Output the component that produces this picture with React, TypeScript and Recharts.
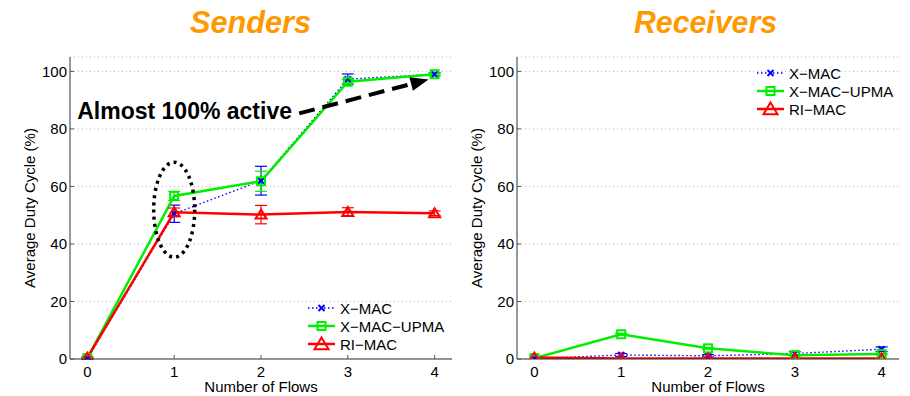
import React from 'react';
import {
  LineChart,
  Line,
  XAxis,
  YAxis,
  CartesianGrid,
  ErrorBar,
  Legend,
  ReferenceLine,
  ReferenceDot,
} from 'recharts';

const FONT = '"Liberation Sans", Arial, Helvetica, sans-serif';

// ---- categories / ticks ----
const flows = [0, 1, 2, 3, 4];
const xTicks = [0, 1, 2, 3, 4];
const yTicks = [0, 20, 40, 60, 80, 100];

// ---- Senders ----
const sendXmac = [0.1, 50.5, 62, 97.3, 99];
const sendXmacErr = [0.2, 3, 5, 1.8, 0.5];
const sendUpma = [0.3, 56.7, 61.8, 96.4, 99];
const sendUpmaErr = [0.2, 1.6, 3.5, 0.8, 0.4];
const sendRimac = [0.5, 51, 50.2, 51.1, 50.7];
const sendRimacErr = [0.3, 1.5, 3.2, 1.5, 0.8];

// ---- Receivers ----
const recvXmac = [0.1, 1.4, 1.1, 1.9, 3.4];
const recvXmacErr = [0, 0.5, 0.4, 0.6, 0.8];
const recvUpma = [0.3, 8.6, 3.7, 1.3, 1.7];
const recvUpmaErr = [0, 0.3, 0.3, 0.2, 0.2];
const recvRimac = [0.5, 0.2, 0.2, 0.2, 0.2];
const recvRimacErr = [0, 0, 0, 0, 0];

const seriesNames = ['X−MAC', 'X−MAC−UPMA', 'RI−MAC'];
const titles = ['Senders', 'Receivers'];

const senders = flows.map((x, i) => ({
  x,
  xmac: sendXmac[i],
  xmacErr: sendXmacErr[i],
  upma: sendUpma[i],
  upmaErr: sendUpmaErr[i],
  rimac: sendRimac[i],
  rimacErr: sendRimacErr[i],
}));

const receivers = flows.map((x, i) => ({
  x,
  xmac: recvXmac[i],
  xmacErr: recvXmacErr[i],
  upma: recvUpma[i],
  upmaErr: recvUpmaErr[i],
  rimac: recvRimac[i],
  rimacErr: recvRimacErr[i],
}));

type Kind = 'x' | 'sq' | 'tri';
const seriesStyle: { key: string; color: string; kind: Kind; width: number; dash?: string }[] = [
  { key: 'xmac', color: '#0000ff', kind: 'x', width: 1.4, dash: '1.5 2.5' },
  { key: 'upma', color: '#00ee00', kind: 'sq', width: 2.5 },
  { key: 'rimac', color: '#ff0000', kind: 'tri', width: 2.5 },
];

function Marker({ kind, cx, cy, color, big }: { kind: Kind; cx: number; cy: number; color: string; big?: boolean }) {
  if (cx == null || cy == null || isNaN(cx) || isNaN(cy)) return null;
  if (kind === 'x') {
    const s = 3;
    return (
      <g>
        <line x1={cx - s} y1={cy - s} x2={cx + s} y2={cy + s} stroke={color} strokeWidth={2} />
        <line x1={cx - s} y1={cy + s} x2={cx + s} y2={cy - s} stroke={color} strokeWidth={2} />
      </g>
    );
  }
  if (kind === 'sq') {
    const s = 4;
    return <rect x={cx - s} y={cy - s} width={2 * s} height={2 * s} fill="none" stroke={color} strokeWidth={2} />;
  }
  const w = big ? 7 : 5.5;
  const h = big ? 6.5 : 5;
  return (
    <polygon
      points={`${cx},${cy - h} ${cx + w},${cy + h * 0.8} ${cx - w},${cy + h * 0.8}`}
      fill="none"
      stroke={color}
      strokeWidth={2}
      strokeLinejoin="miter"
    />
  );
}

function LegendBox() {
  const rowH = 18;
  return (
    <svg width={150} height={rowH * 3 + 4} style={{ display: 'block', overflow: 'visible' }}>
      {seriesStyle.map((s, i) => {
        const y = 9 + i * rowH;
        return (
          <g key={s.key}>
            <line x1={0} y1={y} x2={27} y2={y} stroke={s.color} strokeWidth={s.width} strokeDasharray={s.dash} />
            <Marker kind={s.kind} cx={13.5} cy={y} color={s.color} big />
            <text x={32} y={y} dominantBaseline="central" fontSize={15} fontFamily={FONT} fill="#000">
              {seriesNames[i]}
            </text>
          </g>
        );
      })}
    </svg>
  );
}

const Arrow = (p: any) => {
  const { x1, y1, x2, y2 } = p;
  const dx = x2 - x1;
  const dy = y2 - y1;
  const len = Math.hypot(dx, dy) || 1;
  const ux = dx / len;
  const uy = dy / len;
  const hl = 18;
  const hw = 7;
  const bx = x2 - ux * hl;
  const by = y2 - uy * hl;
  return (
    <g>
      <line x1={x1} y1={y1} x2={bx + ux * 2} y2={by + uy * 2} stroke="#000" strokeWidth={4} strokeDasharray="16 8" />
      <polygon points={`${x2},${y2} ${bx - uy * hw},${by + ux * hw} ${bx + uy * hw},${by - ux * hw}`} fill="#000" />
    </g>
  );
};

function Panel({
  data,
  width,
  margin,
  legendPos,
  annotate,
}: {
  data: any[];
  width: number;
  margin: { top: number; right: number; bottom: number; left: number };
  legendPos: { left: number; top: number };
  annotate?: boolean;
}) {
  const axisStroke = '#333';
  return (
    <LineChart width={width} height={396} data={data} margin={margin} style={{ fontFamily: FONT }}>
      <CartesianGrid horizontal vertical={false} stroke="#b5b5b5" strokeDasharray="1 3" />
      <XAxis
        dataKey="x"
        type="number"
        domain={[-0.2, 4.2]}
        ticks={xTicks}
        allowDataOverflow
        height={33}
        tickSize={-4}
        tickMargin={11}
        axisLine={{ stroke: axisStroke }}
        tickLine={{ stroke: '#555' }}
        tick={{ fill: '#000', fontSize: 15, fontFamily: FONT }}
        label={{ value: 'Number of Flows', position: 'insideBottom', offset: 0, fill: '#000', fontSize: 15, fontFamily: FONT }}
      />
      <XAxis
        xAxisId="top"
        orientation="top"
        type="number"
        domain={[-0.2, 4.2]}
        ticks={xTicks}
        allowDataOverflow
        height={0}
        tickSize={-4}
        tick={false}
        axisLine={{ stroke: axisStroke }}
        tickLine={{ stroke: '#555' }}
      />
      <YAxis
        type="number"
        domain={[0, 105]}
        ticks={yTicks}
        allowDataOverflow
        width={40}
        tickSize={-4}
        tickMargin={7}
        axisLine={{ stroke: axisStroke }}
        tickLine={{ stroke: '#555' }}
        tick={{ fill: '#000', fontSize: 15, fontFamily: FONT }}
        label={{
          value: 'Average Duty Cycle (%)',
          angle: -90,
          position: 'insideLeft',
          offset: 0,
          fill: '#000',
          fontSize: 15,
          fontFamily: FONT,
          style: { textAnchor: 'middle' },
        }}
      />
      <YAxis
        yAxisId="right"
        orientation="right"
        type="number"
        domain={[0, 105]}
        ticks={yTicks}
        allowDataOverflow
        width={0}
        tickSize={-4}
        tick={false}
        axisLine={{ stroke: axisStroke }}
        tickLine={{ stroke: '#555' }}
      />
      {seriesStyle.map((s, i) => (
        <Line
          key={s.key}
          dataKey={s.key}
          name={seriesNames[i]}
          stroke={s.color}
          strokeWidth={s.width}
          strokeDasharray={s.dash}
          isAnimationActive={false}
          dot={(p: any) => <Marker key={`${s.key}-${p.index}`} kind={s.kind} cx={p.cx} cy={p.cy} color={s.color} />}
          activeDot={false}
        >
          <ErrorBar dataKey={`${s.key}Err`} direction="y" width={6} stroke={s.color} strokeWidth={1.2} isAnimationActive={false} />
        </Line>
      ))}
      {annotate && (
        <ReferenceDot
          x={1}
          y={51.9}
          r={0}
          ifOverflow="visible"
          shape={(p: any) => (
            <ellipse cx={p.cx} cy={p.cy} rx={20.5} ry={47.5} fill="none" stroke="#000" strokeWidth={3.5} strokeDasharray="3 4.2" />
          )}
        />
      )}
      {annotate && (
        <ReferenceLine
          segment={[
            { x: 2.44, y: 85.4 },
            { x: 3.93, y: 97.2 },
          ]}
          ifOverflow="visible"
          shape={Arrow}
        />
      )}
      {annotate && (
        <ReferenceDot
          x={-0.117}
          y={86.2}
          r={0}
          ifOverflow="visible"
          shape={(p: any) => (
            <text x={p.cx} y={p.cy} dominantBaseline="central" fontSize={23} fontWeight="bold" fontFamily={FONT} fill="#000">
              Almost 100% active
            </text>
          )}
        />
      )}
      <Legend
        layout="horizontal"
        align="center"
        verticalAlign="middle"
        wrapperStyle={{ left: legendPos.left, top: legendPos.top, width: 150 }}
        content={() => <LegendBox />}
      />
    </LineChart>
  );
}

export default function App() {
  return (
    <div style={{ position: 'absolute', left: 0, top: 0, width: 910, height: 396, background: '#fff', overflow: 'hidden' }}>
      <svg width={910} height={48} style={{ position: 'absolute', left: 0, top: 0 }}>
        <text x={190} y={33} fontSize={31} fontWeight="bold" fontStyle="italic" fontFamily={FONT} fill="#ff9900" textLength={121} lengthAdjust="spacingAndGlyphs">
          {titles[0]}
        </text>
        <text x={634} y={33} fontSize={31} fontWeight="bold" fontStyle="italic" fontFamily={FONT} fill="#ff9900" textLength={143} lengthAdjust="spacingAndGlyphs">
          {titles[1]}
        </text>
      </svg>
      <div style={{ position: 'absolute', left: 0, top: 0 }}>
        <Panel
          data={senders}
          width={460}
          margin={{ top: 57, right: 8, bottom: 4, left: 30 }}
          legendPos={{ left: 308, top: 299 }}
          annotate
        />
      </div>
      <div style={{ position: 'absolute', left: 460, top: 0 }}>
        <Panel
          data={receivers}
          width={450}
          margin={{ top: 57, right: 11, bottom: 4, left: 17 }}
          legendPos={{ left: 297, top: 64 }}
        />
      </div>
    </div>
  );
}
